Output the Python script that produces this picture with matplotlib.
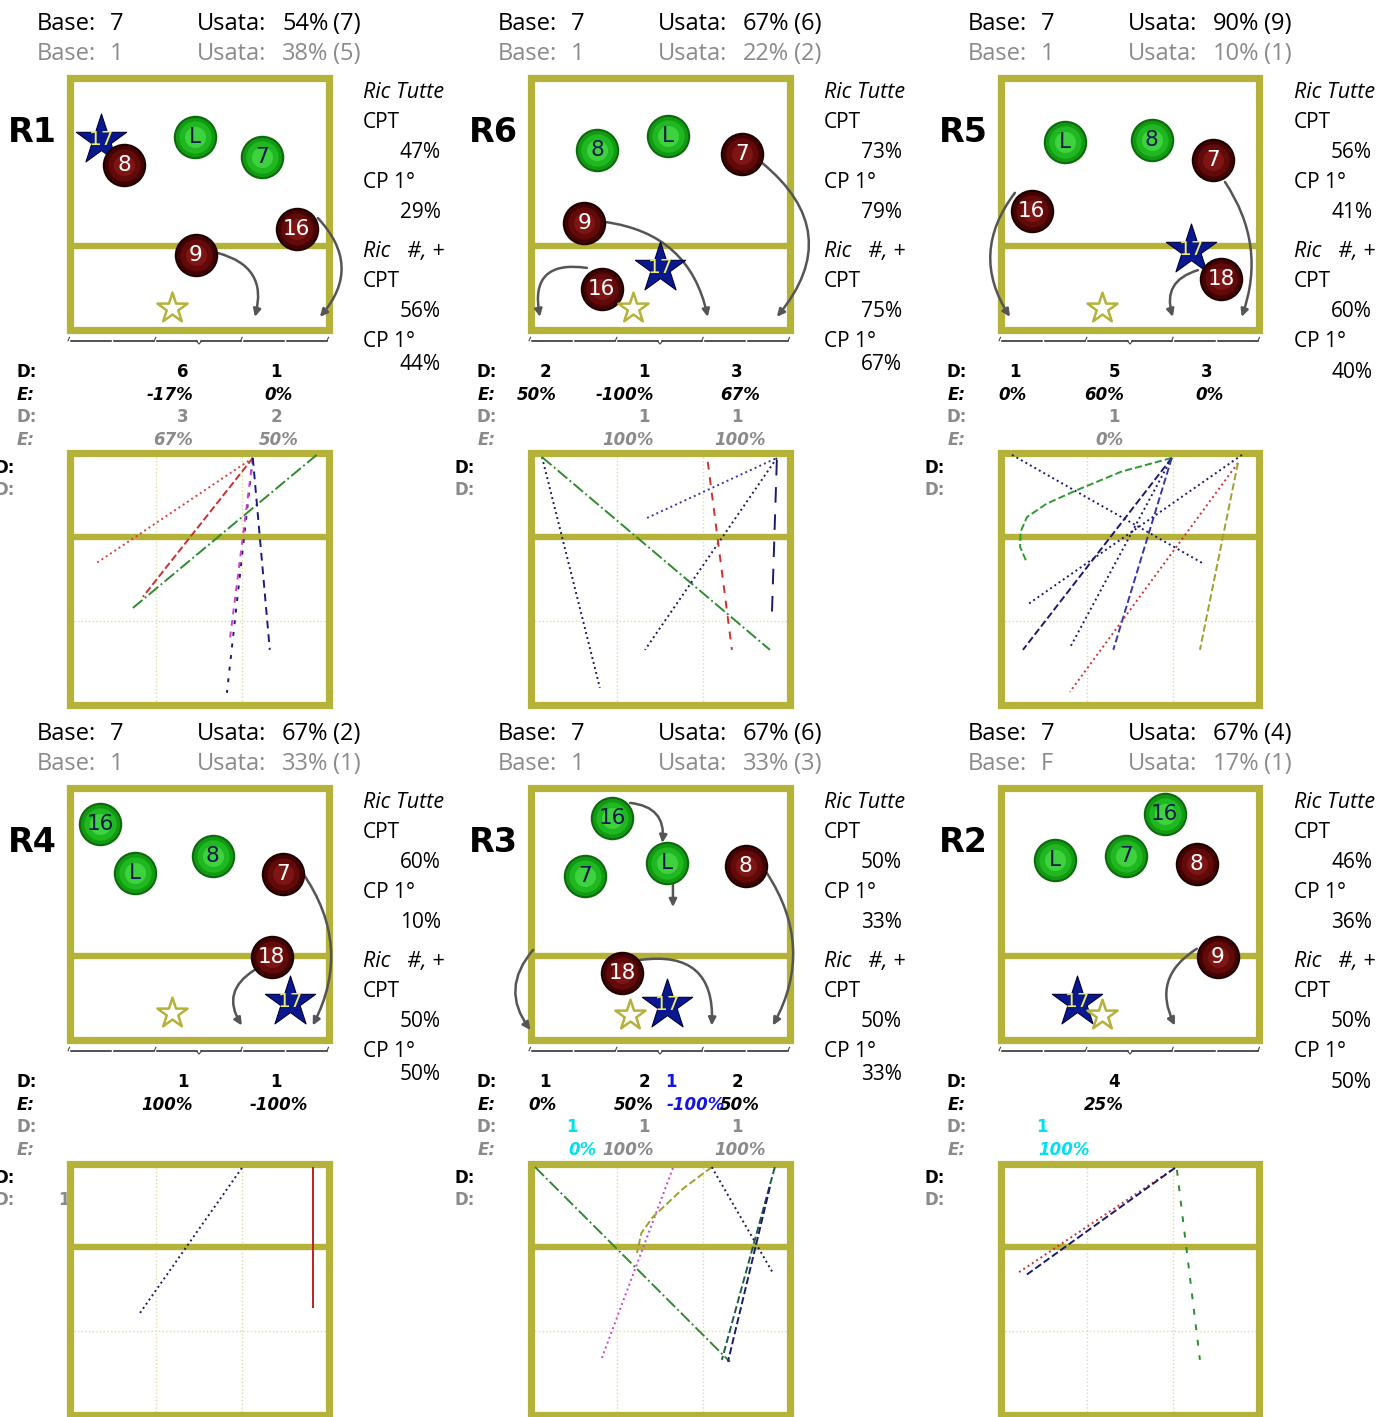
import matplotlib.pyplot as plt
from matplotlib import font_manager
from matplotlib.patches import Rectangle

W, H = 1384, 1417
COL_LEFT = [66, 527, 997]
ROW_TOP = [0, 710]
OLIVE = '#b4b238'
GRAY = '#8a8a8a'

# ---- data, panels in reading order ----
rotations = ['R1', 'R6', 'R5', 'R4', 'R3', 'R2']
base_main = ['7', '7', '7', '7', '7', '7']
usata_main = ['54%', '67%', '90%', '67%', '67%', '67%']
usata_main_n = [7, 6, 9, 2, 6, 4]
base_alt = ['1', '1', '1', '1', '1', 'F']
usata_alt = ['38%', '22%', '10%', '33%', '33%', '17%']
usata_alt_n = [5, 2, 1, 1, 3, 1]

tutte_cpt = ['47%', '73%', '56%', '60%', '50%', '46%']
tutte_cp1 = ['29%', '79%', '41%', '10%', '33%', '36%']
pos_cpt = ['56%', '75%', '60%', '50%', '50%', '50%']
pos_cp1 = ['44%', '67%', '40%', '50%', '33%', '50%']

# players: label, kind (g = green, r = red, s = setter star), x, y  (metres, net at y=0)
players = [
    [('17', 's', 1.09, 6.77), ('8', 'r', 1.89, 5.87), ('L', 'g', 4.36, 6.88),
     ('7', 'g', 6.68, 6.16), ('16', 'r', 7.9, 3.59), ('9', 'r', 4.39, 2.66)],
    [('8', 'g', 2.31, 6.41), ('L', 'g', 4.77, 6.91), ('7', 'r', 7.34, 6.27),
     ('9', 'r', 1.86, 3.80), ('17', 's', 4.5, 2.2), ('16', 'r', 2.48, 1.45)],
    [('L', 'g', 2.24, 6.7), ('8', 'g', 5.26, 6.77), ('7', 'r', 7.38, 6.05),
     ('16', 'r', 1.09, 4.23), ('17', 's', 6.61, 2.84), ('18', 'r', 7.66, 1.8)],
    [('16', 'g', 1.06, 7.7), ('L', 'g', 2.27, 5.95), ('8', 'g', 4.98, 6.55),
     ('7', 'r', 7.41, 5.91), ('18', 'r', 7.03, 2.95), ('17', 's', 7.66, 1.34)],
    [('16', 'g', 2.83, 7.91), ('7', 'g', 1.89, 5.84), ('L', 'g', 4.74, 6.30),
     ('8', 'r', 7.48, 6.20), ('18', 'r', 3.18, 2.37), ('17', 's', 4.74, 1.23)],
    [('16', 'g', 5.71, 8.05), ('L', 'g', 1.89, 6.41), ('7', 'g', 4.36, 6.55),
     ('8', 'r', 6.82, 6.27), ('9', 'r', 7.55, 2.95), ('17', 's', 2.66, 1.34)],
]
target_x = [3.56, 3.56, 3.52, 3.56, 3.45, 3.52]
target_y = [0.77, 0.77, 0.77, 0.95, 0.87, 0.87]

# movement arrows: x0, y0, x1, y1, curvature
moves = [
    [(5.16, 2.73, 6.44, 0.45, -0.5), (8.63, 3.98, 8.7, 0.45, -0.45)],
    [(8.05, 5.95, 8.56, 0.45, -0.5), (2.59, 3.84, 6.16, 0.45, -0.35), (1.96, 2.2, 0.33, 0.45, 0.7)],
    [(0.5, 4.88, 0.33, 0.45, 0.35), (7.8, 5.27, 8.38, 0.45, -0.25), (6.86, 2.12, 5.99, 0.45, 0.5)],
    [(8.1, 5.95, 8.45, 0.5, -0.3), (6.44, 2.49, 5.99, 0.5, 0.5)],
    [(3.46, 8.45, 4.58, 7.02, -0.5), (4.95, 5.52, 4.95, 4.73, 0.0), (8.21, 5.95, 8.42, 0.5, -0.3),
     (3.8, 2.84, 6.3, 0.5, -0.6), (0.09, 3.2, 0.0, 0.34, 0.4)],
    [(6.82, 3.24, 6.06, 0.5, 0.45)],
]

# distribution rows under the court (zone, count, efficiency)
main_zone = [['M', 'R'], ['L', 'M', 'R'], ['L', 'M', 'R'], ['M', 'R'], ['L', 'M', 'X', 'R'], ['M']]
main_n = [[6, 1], [2, 1, 3], [1, 5, 3], [1, 1], [1, 2, 1, 2], [4]]
main_eff = [['-17%', '0%'], ['50%', '-100%', '67%'], ['0%', '60%', '0%'], ['100%', '-100%'],
            ['0%', '50%', '-100%', '50%'], ['25%']]
alt_zone = [['M', 'R'], ['M', 'R'], ['M'], [], ['C', 'M', 'R'], ['C']]
alt_n = [[3, 2], [1, 1], [1], [], [1, 1, 1], [1]]
alt_eff = [['67%', '50%'], ['100%', '100%'], ['0%'], [], ['0%', '100%', '100%'], ['100%']]
attack_alt_n = ['', '', '', '1', '', '']

# attack directions (metres, net at y=0 on top)
attack_x = [
    [[6.37, 0.95], [6.37, 2.55], [8.59, 2.2], [6.37, 5.47], [6.37, 5.57], [6.37, 6.96]],
    [[0.4, 2.41], [0.4, 8.32], [4.05, 8.56], [8.56, 3.98], [6.16, 7.0], [8.56, 8.39]],
    [[5.95, 4.2, 2.66, 1.6, 0.92, 0.7, 0.68, 0.92], [0.4, 7.0], [5.95, 2.41], [5.95, 0.78],
     [5.95, 3.92], [8.39, 0.92], [8.25, 2.41], [8.25, 6.93]],
    [[5.99, 2.45], [8.45, 8.45]],
    [[0.16, 6.93], [4.95, 2.48], [6.3, 5.3, 4.25, 3.85, 3.7], [6.3, 8.42], [8.49, 6.65], [8.32, 6.86]],
    [[6.06, 0.61], [6.06, 0.85], [6.13, 6.93]],
]
attack_y = [
    [[0.16, 3.92], [0.16, 5.14], [0.05, 5.54], [0.16, 8.58], [0.16, 6.68], [0.16, 7.04]],
    [[0.13, 8.4], [0.13, 7.04], [2.31, 0.16], [0.16, 7.04], [0.3, 7.04], [0.23, 5.72]],
    [[0.16, 0.65, 1.31, 1.8, 2.28, 2.8, 3.35, 3.92], [0.05, 3.92], [0.16, 6.97], [0.16, 7.04],
     [0.16, 7.04], [0.05, 5.43], [0.34, 8.55], [0.34, 7.04]],
    [[0.16, 5.36], [0.16, 5.14]],
    [[0.13, 7.11], [0.16, 6.97], [0.13, 0.9, 1.92, 2.5, 3.21], [0.13, 3.92], [0.13, 7.04], [0.84, 7.11]],
    [[0.16, 3.92], [0.16, 4.03], [0.23, 7.04]],
]
attack_color = [
    ['#d84040', '#c83030', '#2e8b2e', '#1a1a70', '#d040d0', '#1a1a80'],
    ['#1a1a60', '#2e8b2e', '#3535b0', '#1a1a60', '#d03030', '#1a1a70'],
    ['#2e9b2e', '#1a1a70', '#1a1a70', '#1a1a70', '#3535b0', '#1a1a70', '#d03030', '#a0a030'],
    ['#1a1a60', '#c02020'],
    ['#2e8b2e', '#d040d0', '#a0a030', '#1a1a60', '#1e5e3e', '#1a1a70'],
    ['#c83030', '#1a1a70', '#2e8b2e'],
]
attack_style = [
    [':', '--', '-.', (0, (2, 4)), (0, (3, 3)), (0, (4, 3))],
    [':', '-.', ':', ':', (0, (4, 4)), (0, (8, 6))],
    ['--', ':', ':', '--', '--', ':', ':', '--'],
    [':', '-'],
    ['-.', ':', '--', ':', '--', '--'],
    [':', '--', (0, (3, 5))],
]

zone_d = {'L': 18, 'M': 117, 'R': 210, 'X': 144, 'C': 45}
zone_e = {'L': (30, 'right'), 'M': (127, 'right'), 'R': (213, 'center'),
          'X': (140, 'left'), 'C': (41, 'left')}
zone_color = {'X': '#1414e6', 'C': '#00e0f0'}

names = {f.name for f in font_manager.fontManager.ttflist}
NUM_FONT = 'Liberation Sans Narrow' if 'Liberation Sans Narrow' in names else 'DejaVu Sans'
NUM_SIZE = 19 if NUM_FONT == 'Liberation Sans Narrow' else 15.5
TXT = 'Open Sans'

fig = plt.figure(figsize=(W / 100, H / 100), dpi=100)
bg = fig.add_axes([0, 0, 1, 1])
bg.set_xlim(0, W)
bg.set_ylim(H, 0)
bg.axis('off')


def put(x, y, s, **kw):
    bg.text(x, y, s, va='baseline', **kw)


def court_axes(cl, top, h):
    ax = fig.add_axes([(cl + 3.5) / W, 1 - (top + h) / H, 259 / W, h / H])
    ax.set_xlim(0, 9)
    ax.axis('off')
    ax.add_patch(Rectangle((0, 0), 9, 9, fill=False, ec=OLIVE, lw=5.2,
                           joinstyle='miter', clip_on=False, zorder=2))
    ax.plot([0, 9], [3, 3], color=OLIVE, lw=4.6, solid_capstyle='butt', zorder=2)
    return ax


green_layers = [(980, '#0b6a0b'), (800, '#139a13'), (540, '#20b820'), (230, '#3fd23f')]
red_layers = [(980, '#1e0000'), (800, '#430202'), (540, '#620909'), (230, '#7e1515')]

for i, rot in enumerate(rotations):
    cl = COL_LEFT[i % 3]
    ro = ROW_TOP[i // 3]

    # header
    put(cl - 29, ro + 30, 'Base:', fontsize=17, family=TXT)
    put(cl + 44, ro + 30, base_main[i], fontsize=17, family=TXT)
    put(cl + 131, ro + 30, 'Usata:', fontsize=17, family=TXT)
    put(cl + 216, ro + 30, usata_main[i], fontsize=17, family=TXT)
    put(cl + 267, ro + 30, f'({usata_main_n[i]})', fontsize=17, family=TXT)
    put(cl - 29, ro + 60, 'Base:', fontsize=17, family=TXT, color=GRAY)
    put(cl + 44, ro + 60, base_alt[i], fontsize=17, family=TXT, color=GRAY)
    put(cl + 131, ro + 60, 'Usata:', fontsize=17, family=TXT, color=GRAY)
    put(cl + 216, ro + 60, usata_alt[i], fontsize=17, family=TXT, color=GRAY)
    put(cl + 267, ro + 60, f'({usata_alt_n[i]})', fontsize=17, family=TXT, color=GRAY)

    put(cl - 58, ro + 142, rot, fontsize=24, fontweight='bold', family='DejaVu Sans')

    # reception stats on the right
    rx, px = cl + 297, cl + 334
    last = 378 if i % 3 == 2 else 370
    put(rx, ro + 98, 'Ric Tutte', fontsize=15.5, family=TXT, style='italic')
    put(rx, ro + 128, 'CPT', fontsize=15, family=TXT)
    put(px, ro + 158, tutte_cpt[i], fontsize=15, family=TXT)
    put(rx, ro + 188, 'CP 1°', fontsize=15, family=TXT)
    put(px, ro + 218, tutte_cp1[i], fontsize=15, family=TXT)
    put(rx, ro + 257, 'Ric   #, +', fontsize=15.5, family=TXT, style='italic')
    put(rx, ro + 287, 'CPT', fontsize=15, family=TXT)
    put(px, ro + 317, pos_cpt[i], fontsize=15, family=TXT)
    put(rx, ro + 347, 'CP 1°', fontsize=15, family=TXT)
    put(px, ro + last, pos_cp1[i], fontsize=15, family=TXT)

    # distribution rows
    put(cl - 50, ro + 377, 'D:', fontsize=12, fontweight='bold')
    put(cl - 49, ro + 400, 'E:', fontsize=12, fontweight='bold', style='italic')
    put(cl - 50, ro + 422, 'D:', fontsize=12, fontweight='bold', color=GRAY)
    put(cl - 49, ro + 445, 'E:', fontsize=12, fontweight='bold', style='italic', color=GRAY)
    for z, n, e in zip(main_zone[i], main_n[i], main_eff[i]):
        c = zone_color.get(z, 'black')
        put(cl + zone_d[z], ro + 377, str(n), fontsize=12, fontweight='bold', color=c, ha='center')
        ex, ha = zone_e[z]
        put(cl + ex, ro + 400, e, fontsize=12, fontweight='bold', style='italic', color=c, ha=ha)
    for z, n, e in zip(alt_zone[i], alt_n[i], alt_eff[i]):
        c = zone_color.get(z, GRAY)
        put(cl + zone_d[z], ro + 422, str(n), fontsize=12, fontweight='bold', color=c, ha='center')
        ex, ha = zone_e[z]
        put(cl + ex, ro + 445, e, fontsize=12, fontweight='bold', style='italic', color=c, ha=ha)

    # attack chart labels
    put(cl - 72, ro + 473, 'D:', fontsize=12, fontweight='bold')
    put(cl - 72, ro + 495, 'D:', fontsize=12, fontweight='bold', color=GRAY)
    if attack_alt_n[i]:
        put(cl - 8, ro + 495, attack_alt_n[i], fontsize=12, fontweight='bold', color=GRAY)

    # ---- reception court ----
    ax = court_axes(cl, ro + 77.5, 252)
    ax.set_ylim(0, 9)

    # brace under the net
    yb = -0.4
    for a, b in [(0.05, 1.45), (1.55, 2.95), (3.05, 4.42), (4.58, 5.95), (6.05, 7.45), (7.55, 8.95)]:
        ax.plot([a, b], [yb, yb], color='#222222', lw=1.1, clip_on=False)
    for xt in [0, 3, 6, 9]:
        ax.plot([xt - 0.05, xt], [yb, yb + 0.12], color='#444444', lw=0.8, clip_on=False)
    ax.plot([4.4, 4.5, 4.6], [yb, yb - 0.12, yb], color='#444444', lw=0.8, clip_on=False)

    for x0, y0, x1, y1, rad in moves[i]:
        ax.annotate('', xy=(x1, y1), xytext=(x0, y0), annotation_clip=False, zorder=3,
                    arrowprops=dict(arrowstyle='-|>,head_length=0.45,head_width=0.22',
                                    connectionstyle=f'arc3,rad={rad}', color='#555555',
                                    lw=1.8, shrinkA=0, shrinkB=0))

    for lab, kind, x, y in players[i]:
        if kind == 's':
            ax.scatter([x], [y], s=1450, marker='*', color='#0a1890', edgecolors='#00003a',
                       linewidths=0.8, zorder=4, clip_on=False)
            ax.text(x + 0.03, y + 0.02, lab, ha='center', va='center', color='#eeee70',
                    fontsize=NUM_SIZE - 1, family=NUM_FONT, zorder=5)
        else:
            layers = green_layers if kind == 'g' else red_layers
            for s, c in layers:
                ax.scatter([x], [y], s=s, color=c, linewidths=0, zorder=4, clip_on=False)
            ax.text(x, y, lab, ha='center', va='center', fontsize=NUM_SIZE, family=NUM_FONT,
                    color='#0b1a4a' if kind == 'g' else 'white', zorder=5)

    ax.scatter([target_x[i]], [target_y[i]], s=520, marker='*', facecolors='white',
               edgecolors=OLIVE, linewidths=1.8, zorder=6)

    # ---- attack court ----
    ax2 = court_axes(cl, ro + 453.5, 251)
    ax2.set_ylim(9, 0)
    for g in [3, 6]:
        ax2.plot([g, g], [0, 9], color='#dcdca0', lw=1, ls=':', zorder=1)
    ax2.plot([0, 9], [6, 6], color='#dcdca0', lw=1, ls=':', zorder=1)
    for xs, ys, c, st in zip(attack_x[i], attack_y[i], attack_color[i], attack_style[i]):
        ax2.plot(xs, ys, color=c, ls=st, lw=1.4, zorder=3)

fig.savefig('out.png', dpi=100)
